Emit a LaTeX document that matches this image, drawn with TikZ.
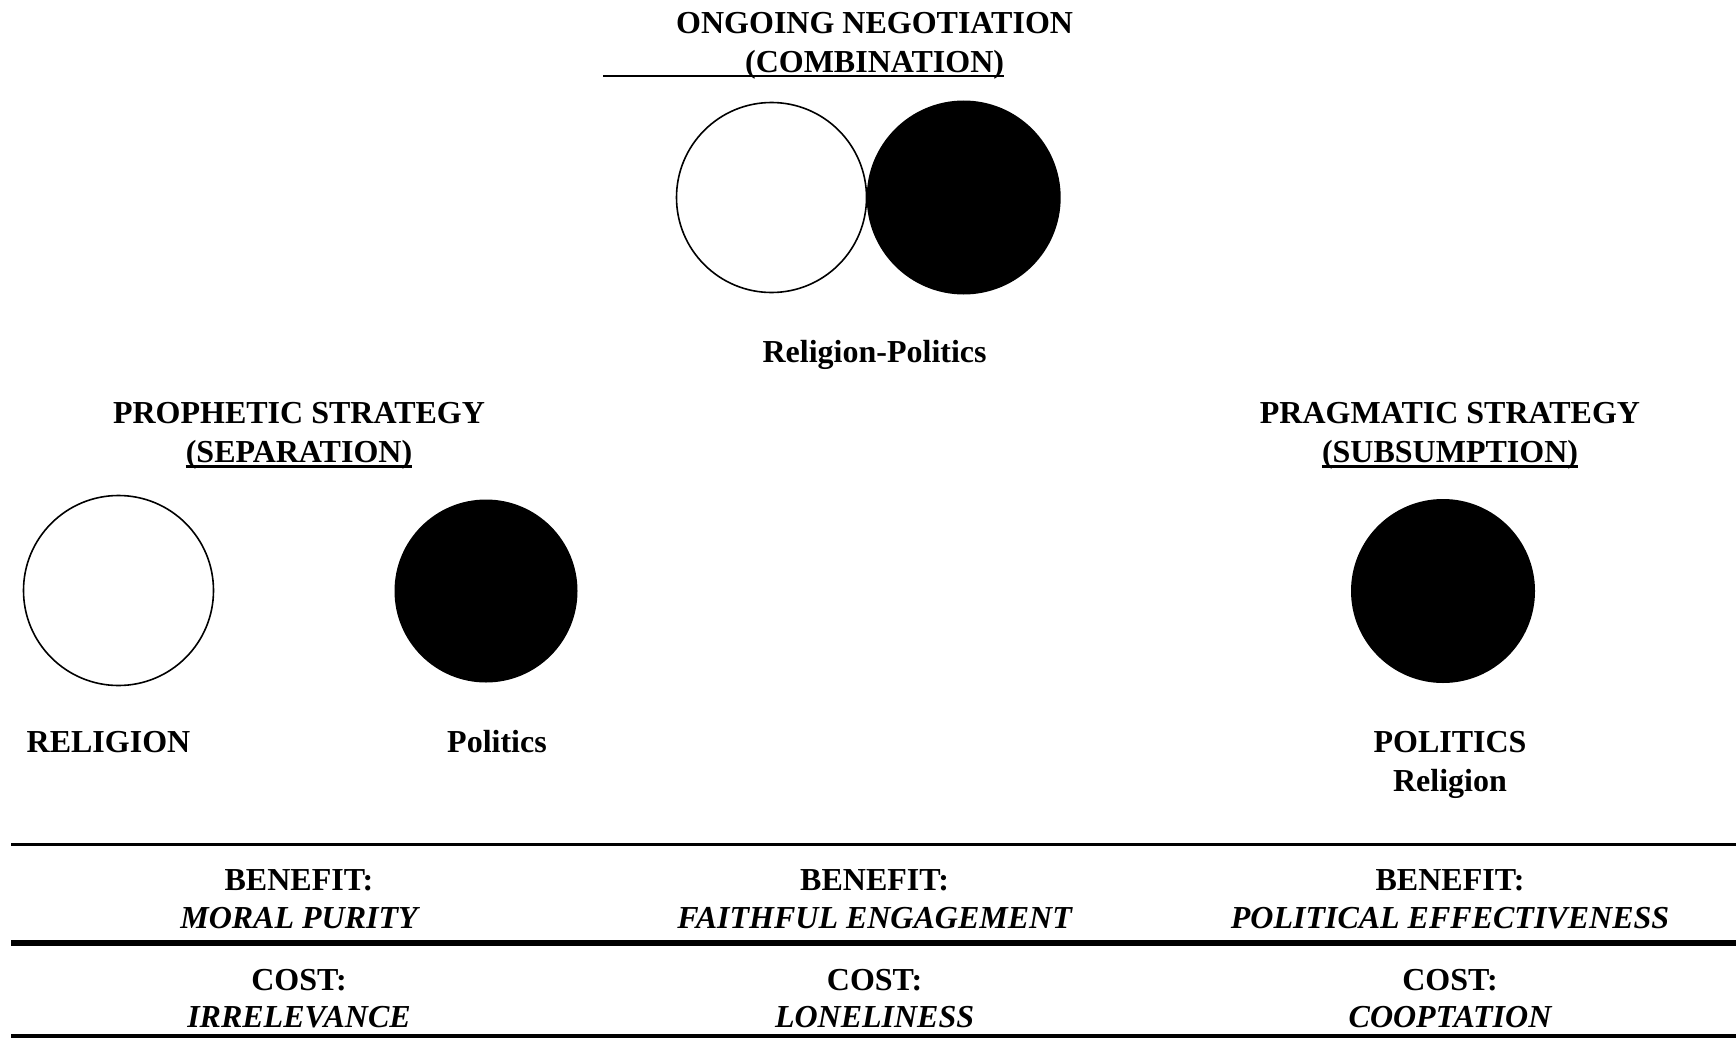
\documentclass[tikz,border=0pt]{standalone}
\usepackage{fontspec}
\setmainfont{Liberation Serif}
\begin{document}
\begin{tikzpicture}[x=1pt,y=-1pt,
  lbl/.style={font=\fontsize{32}{38.5}\selectfont\bfseries, inner sep=0pt, anchor=base},
  ilbl/.style={font=\fontsize{32}{38.5}\selectfont\bfseries\itshape, inner sep=0pt, anchor=base},
  ring/.style={circle, draw=black, line width=1.6pt, fill=white, inner sep=0pt},
  disc/.style={circle, fill=black, draw=none, inner sep=0pt},
  ulined/.style={line width=2.2pt},
  hrule/.style={line width=#1}]
\useasboundingbox (0,0) rectangle (1736,1038);

% top: ongoing negotiation
\node[lbl] (t1) at (874.6,34) {ONGOING NEGOTIATION};
\node[lbl] (t2) at (874.6,72.5) {(COMBINATION)};
\coordinate (ulstart) at (603,76.4);
\draw[ulined] (ulstart) -- (ulstart -| t2.east);
\node[ring, minimum size=190pt] (cw) at (771.5,197.5) {};
\node[disc, minimum size=194pt] (cb) at (963.7,197.5) {};
\node[lbl] (rp) at (874.6,362.5) {Religion-Politics};

% left: prophetic
\node[lbl] (p1) at (299,423.5) {PROPHETIC STRATEGY};
\node[lbl] (p2) at (299,462.5) {(SEPARATION)};
\draw[ulined] ([yshift=-4pt]p2.base west) -- ([yshift=-4pt]p2.base east);
\node[ring, minimum size=190pt] (lw) at (118.5,590.5) {};
\node[disc, minimum size=183pt] (lb) at (486,591) {};
\node[lbl] (lr) at (108.5,752.5) {RELIGION};
\node[lbl] (lp) at (497,752.5) {Politics};

% right: pragmatic
\node[lbl] (g1) at (1450,423.5) {PRAGMATIC STRATEGY};
\node[lbl] (g2) at (1450,462.5) {(SUBSUMPTION)};
\draw[ulined] ([yshift=-4pt]g2.base west) -- ([yshift=-4pt]g2.base east);
\node[disc, minimum size=184pt] (rb) at (1443,591) {};
\node[lbl] (rp1) at (1450,752.5) {POLITICS};
\node[lbl] (rp2) at (1450,791) {Religion};

% table rules
\coordinate (r1a) at (11,844.5); \coordinate (r1b) at (1736,844.5);
\coordinate (r2a) at (11,943);   \coordinate (r2b) at (1736,943);
\coordinate (r3a) at (11,1036);  \coordinate (r3b) at (1736,1036);
\draw[hrule=3.3pt] (r1a) -- (r1b);
\draw[hrule=5.7pt] (r2a) -- (r2b);
\draw[hrule=3.3pt] (r3a) -- (r3b);

% benefits / costs
\node[lbl]  (b1) at (299,890.5) {BENEFIT:};
\node[ilbl] (b1v) at (299,928.5) {MORAL PURITY};
\node[lbl]  (c1) at (299,990.5) {COST:};
\node[ilbl] (c1v) at (299,1027.5) {IRRELEVANCE};

\node[lbl]  (b2) at (874.6,890.5) {BENEFIT:};
\node[ilbl] (b2v) at (874.6,928.5) {FAITHFUL ENGAGEMENT};
\node[lbl]  (c2) at (874.6,990.5) {COST:};
\node[ilbl] (c2v) at (874.6,1027.5) {LONELINESS};

\node[lbl]  (b3) at (1450,890.5) {BENEFIT:};
\node[ilbl] (b3v) at (1450,928.5) {POLITICAL EFFECTIVENESS};
\node[lbl]  (c3) at (1450,990.5) {COST:};
\node[ilbl] (c3v) at (1450,1027.5) {COOPTATION};
\end{tikzpicture}
\end{document}
